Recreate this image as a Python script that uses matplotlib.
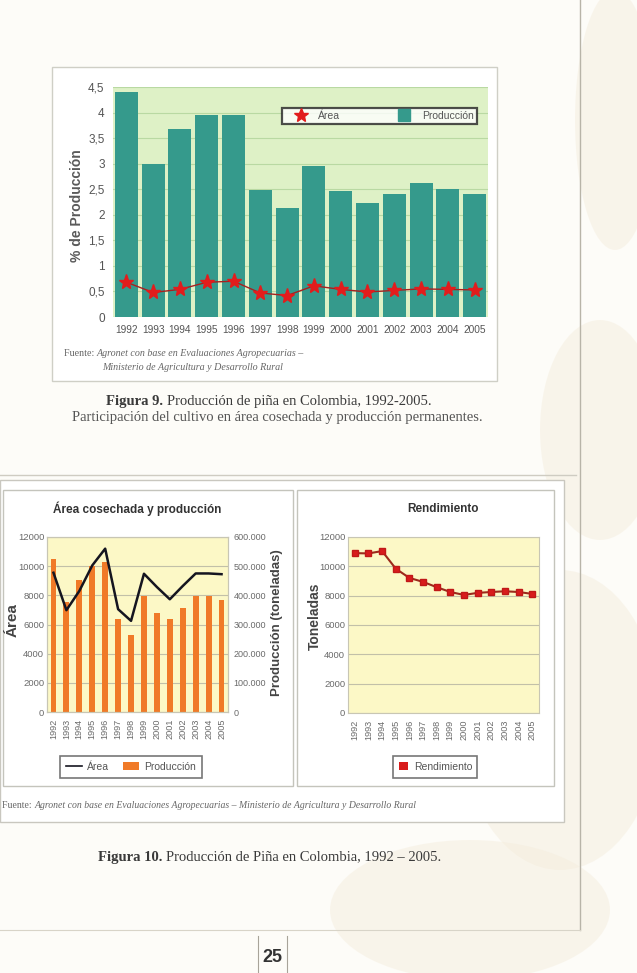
import matplotlib.pyplot as plt
import numpy as np
from matplotlib.patches import Rectangle, Ellipse
from matplotlib.lines import Line2D
import matplotlib.ticker as mticker

W, H = 637, 973

# datos
years = list(range(1992, 2006))
pct_produccion = [4.40, 2.99, 3.67, 3.95, 3.95, 2.48, 2.14, 2.96, 2.46, 2.24, 2.40, 2.63, 2.50, 2.40]
pct_area = [0.68, 0.48, 0.54, 0.68, 0.70, 0.47, 0.42, 0.61, 0.54, 0.49, 0.52, 0.55, 0.54, 0.53]
area_ha = [9550, 6980, 8300, 10050, 11200, 7050, 6250, 9480, 8570, 7730, 8640, 9500, 9500, 9450]
produccion_t = [524000, 378000, 453000, 502000, 514000, 318000, 264000, 397000,
                341000, 318000, 357000, 397000, 397000, 383000]
rendimiento = [10900, 10880, 11040, 9840, 9210, 8940, 8580, 8250, 8050, 8190, 8250, 8300, 8250, 8120]

serif = 'Liberation Serif'
plt.rcParams['font.family'] = ['Liberation Sans', 'DejaVu Sans']


def box(x0, y0, x1, y1):
    return [x0 / W, 1 - y1 / H, (x1 - x0) / W, (y1 - y0) / H]


fig = plt.figure(figsize=(W / 100, H / 100), dpi=100)
fig.patch.set_facecolor('#fdfcf8')
bg = fig.add_axes([0, 0, 1, 1])
bg.set_xlim(0, W)
bg.set_ylim(H, 0)
bg.axis('off')
renderer = fig.canvas.get_renderer()

# fondo de la pagina (marca de agua muy clara)
for (cx, cy, w, h) in [(615, 120, 80, 260), (600, 430, 120, 220), (560, 720, 200, 300), (470, 910, 280, 140)]:
    bg.add_patch(Ellipse((cx, cy), w, h, facecolor='#f4ecdb', edgecolor='none', alpha=0.45, zorder=0))
bg.plot([580, 580], [0, 930], color='#b8b4a8', lw=1)
bg.plot([0, 580], [930, 930], color='#d8d4c8', lw=0.8)
bg.plot([258, 258], [936, 973], color='#a8a49a', lw=0.8)
bg.plot([287, 287], [936, 973], color='#a8a49a', lw=0.8)
bg.text(272.5, 958, '25', ha='center', va='center', fontsize=13, fontweight='bold', color='#333333')


def runs(x, y, parts, size, color='#444444'):
    for s, style in parts:
        t = bg.text(x, y, s, fontsize=size, color=color, family=serif, va='center', **style)
        x += t.get_window_extent(renderer=renderer).width


# ---------- Figura 9 ----------
bg.add_patch(Rectangle((52, 67), 445, 314, facecolor='white', edgecolor='#cfcfc6', lw=1))
ax1 = fig.add_axes(box(113, 87, 488, 317))
x = np.arange(len(years))
ax1.set_facecolor('#def1c6')
ax1.bar(x, pct_produccion, width=0.86, color='#359a8c', zorder=2)
ax1.plot(x, pct_area, color='#a82020', lw=1, marker='*', ms=11, mfc='#e21c1c', mec='#e21c1c', zorder=3)
ax1.set_xlim(-0.5, len(years) - 0.5)
ax1.set_ylim(0, 4.5)
ax1.set_yticks(np.arange(0, 4.51, 0.5))
ax1.yaxis.set_major_formatter(mticker.FuncFormatter(lambda v, p: f'{v:g}'.replace('.', ',')))
ax1.set_xticks(x)
ax1.set_xticklabels([str(y) for y in years])
ax1.grid(axis='y', color='#b9d9a2', lw=0.8, zorder=1)
ax1.set_axisbelow(True)
for s in ax1.spines.values():
    s.set_visible(False)
ax1.tick_params(length=0, labelsize=8.5, colors='#555555', pad=6)
ax1.tick_params(axis='x', labelsize=7.3, pad=6)
bg.text(77, 206, '% de Producción', rotation=90, ha='center', va='center', fontsize=10,
        fontweight='bold', color='#5a5a5a')
h1 = [Line2D([], [], color='none', marker='*', ms=10, mfc='#e21c1c', mec='#e21c1c'),
      Line2D([], [], color='none', marker='s', ms=9, mfc='#359a8c', mec='#359a8c')]
leg1 = ax1.legend(h1, ['Área', 'Producción'], ncol=2, mode='expand',
                  bbox_to_anchor=(0.45, 0.84, 0.52, 0.078), loc='lower left',
                  fontsize=7.5, frameon=True, fancybox=False, borderpad=0.3,
                  handlelength=3, handletextpad=0.2, borderaxespad=0)
leg1.get_frame().set_edgecolor('#222222')
leg1.get_frame().set_linewidth(1.6)
for t in leg1.get_texts():
    t.set_color('#555555')

runs(64, 353, [('Fuente: ', {}), ('Agronet con base en Evaluaciones Agropecuarias –', {'style': 'italic'})], 7.2, '#666666')
runs(102, 367, [('Ministerio de Agricultura y Desarrollo Rural', {'style': 'italic'})], 7.2, '#666666')
runs(106, 401, [('Figura 9. ', {'fontweight': 'bold'}), ('Producción de piña en Colombia, 1992-2005.', {})], 10.5, '#3a3a3a')
bg.text(277, 418, 'Participación del cultivo en área cosechada y producción permanentes.',
        ha='center', va='center', fontsize=10.5, color='#555555', family=serif)

# ---------- Figura 10 ----------
bg.plot([0, 576], [475, 475], color='#cfccc2', lw=1)
bg.add_patch(Rectangle((0, 480), 564, 342, facecolor='white', edgecolor='#c9c7bf', lw=1))
bg.add_patch(Rectangle((3, 490), 290, 296, facecolor='white', edgecolor='#c4c4bc', lw=1))
bg.add_patch(Rectangle((297, 490), 257, 296, facecolor='white', edgecolor='#c4c4bc', lw=1))

yellow = '#fcf8c6'
gridc = '#c2c0a8'

# area cosechada y produccion
ax2 = fig.add_axes(box(47, 537, 228, 712))
ax2b = ax2.twinx()
ax2.set_zorder(ax2b.get_zorder() + 1)
ax2.patch.set_visible(False)
ax2b.patch.set_visible(True)
ax2b.set_facecolor(yellow)
ax2b.bar(x, produccion_t, width=0.45, color='#f07a28', zorder=2)
ax2b.set_ylim(0, 600000)
ax2b.set_yticks(np.arange(0, 600001, 100000))
ax2b.yaxis.set_major_formatter(mticker.FuncFormatter(lambda v, p: f'{int(v):,}'.replace(',', '.')))
ax2b.grid(axis='y', color=gridc, lw=0.8)
ax2b.set_axisbelow(True)
ax2.plot(x, area_ha, color='#151520', lw=1.8)
ax2.set_ylim(0, 12000)
ax2.set_yticks(np.arange(0, 12001, 2000))
ax2.set_xlim(-0.5, len(years) - 0.5)
ax2.set_xticks(x)
ax2.set_xticklabels([str(y) for y in years], rotation=90)
for a in (ax2, ax2b):
    for s in a.spines.values():
        s.set_color('#c8c6b4')
        s.set_linewidth(0.8)
    a.tick_params(length=0, labelsize=6.8, colors='#6a6a6a', pad=2)
ax2b.tick_params(labelsize=6.5, pad=4)
ax2.tick_params(axis='x', labelsize=6.6, pad=5)
bg.text(13, 620, 'Área', rotation=90, ha='center', va='center', fontsize=11,
        fontweight='bold', color='#444444')
bg.text(277, 623, 'Producción (toneladas)', rotation=90, ha='center', va='center', fontsize=9.5,
        fontweight='bold', color='#444444')
bg.text(137, 509, 'Área cosechada y producción', ha='center', va='center', fontsize=8.5,
        fontweight='bold', color='#333333')
h2 = [Line2D([], [], color='#151520', lw=1.2), Rectangle((0, 0), 1, 1, facecolor='#f07a28')]
leg2 = fig.legend(h2, ['Área', 'Producción'], ncol=2, mode='expand',
                  bbox_to_anchor=(60 / W, 1 - 778 / H, 142 / W, 25 / H), loc='lower left',
                  fontsize=7.5, fancybox=False, borderpad=0.6, handlelength=1.5,
                  handletextpad=0.5, borderaxespad=0)
leg2.get_frame().set_edgecolor('#555555')
leg2.get_frame().set_linewidth(1.2)
for t in leg2.get_texts():
    t.set_color('#555555')

# rendimiento
ax3 = fig.add_axes(box(348, 537, 539, 713))
ax3.set_facecolor(yellow)
ax3.plot(x, rendimiento, color='#9c2a1c', lw=1.5, marker='s', ms=4.5, mfc='#d81c1c', mec='#c01818')
ax3.set_ylim(0, 12000)
ax3.set_yticks(np.arange(0, 12001, 2000))
ax3.set_xlim(-0.5, len(years) - 0.5)
ax3.set_xticks(x)
ax3.set_xticklabels([str(y) for y in years], rotation=90)
ax3.grid(axis='y', color=gridc, lw=0.8)
ax3.set_axisbelow(True)
for s in ax3.spines.values():
    s.set_color('#c8c6b4')
    s.set_linewidth(0.8)
ax3.tick_params(length=0, labelsize=6.8, colors='#6a6a6a', pad=2)
ax3.tick_params(axis='x', labelsize=6.6, pad=5)
bg.text(315, 616, 'Toneladas', rotation=90, ha='center', va='center', fontsize=10,
        fontweight='bold', color='#444444')
bg.text(443, 509, 'Rendimiento', ha='center', va='center', fontsize=8.5,
        fontweight='bold', color='#333333')
h3 = [Rectangle((0, 0), 1, 1, facecolor='#d81c1c')]
leg3 = fig.legend(h3, ['Rendimiento'], loc='lower left',
                  bbox_to_anchor=(393 / W, 1 - 778 / H, 84 / W, 25 / H), mode='expand',
                  fontsize=7.5, fancybox=False, borderpad=0.6, handlelength=0.8,
                  handletextpad=0.6, borderaxespad=0)
leg3.get_frame().set_edgecolor('#555555')
leg3.get_frame().set_linewidth(1.2)
for t in leg3.get_texts():
    t.set_color('#555555')

runs(2, 805, [('Fuente: ', {}), ('Agronet con base en Evaluaciones Agropecuarias – Ministerio de Agricultura y Desarrollo Rural',
                               {'style': 'italic'})], 7, '#666666')
runs(98, 857, [('Figura 10. ', {'fontweight': 'bold'}), ('Producción de Piña en Colombia, 1992 – 2005.', {})], 10.5, '#3a3a3a')

fig.savefig('out.png', dpi=100, facecolor=fig.get_facecolor())
